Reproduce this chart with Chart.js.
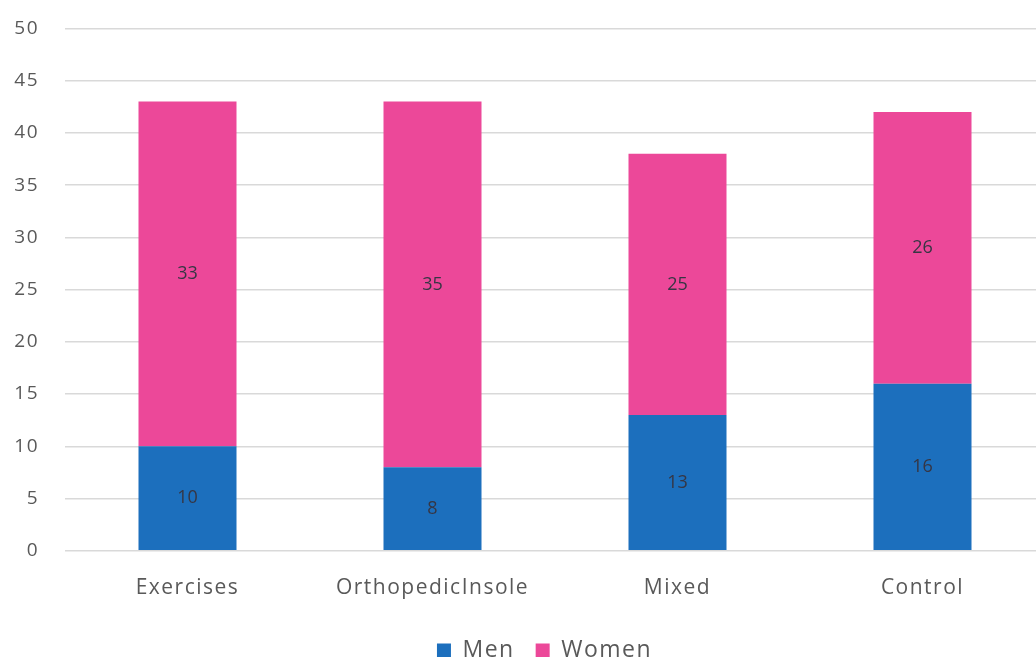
<!DOCTYPE html>
<html>
<head>
<meta charset="utf-8">
<script src="https://cdn.jsdelivr.net/npm/chart.js@4/dist/chart.umd.min.js"></script>
<style>
  html, body { margin: 0; padding: 0; background: #ffffff; overflow: hidden; }
  #wrap { width: 1036px; height: 657px; overflow: hidden; position: relative; }
  #box { width: 1050px; height: 685px; position: absolute; left: 0; top: -9px; }
</style>
</head>
<body>
<div id="wrap"><div id="box"><canvas id="c"></canvas></div></div>
<script>
const categories = ["Exercises", "OrthopedicInsole", "Mixed", "Control"];
const men = [10, 8, 13, 16];
const women = [33, 35, 25, 26];
const yTicks = [0, 5, 10, 15, 20, 25, 30, 35, 40, 45, 50];

const FONT = "'Open Sans', 'Noto Sans', sans-serif";
const TEXT = "#595959";

// Slightly looser tracking for all chart text
const tracking = {
  id: "tracking",
  beforeLayout(chart) { chart.ctx.letterSpacing = "1.5px"; },
  beforeDraw(chart) { chart.ctx.letterSpacing = "1.5px"; }
};

// Nudges the legend a little right of the page centre
const legendShift = {
  id: "legendShift",
  afterLayout(chart) {
    if (chart.legend) {
      chart.legend.left += 22;
      chart.legend.right += 22;
    }
  }
};

// Writes each segment's value in the middle of its bar
const segmentLabels = {
  id: "segmentLabels",
  afterDatasetsDraw(chart) {
    const ctx = chart.ctx;
    ctx.save();
    ctx.letterSpacing = "0px";
    ctx.font = "18px " + FONT;
    ctx.fillStyle = "#363644";
    ctx.textAlign = "center";
    ctx.textBaseline = "middle";
    chart.data.datasets.forEach((ds, i) => {
      chart.getDatasetMeta(i).data.forEach((bar, j) => {
        const p = bar.getProps(["x", "y", "base"], true);
        ctx.fillText(String(ds.data[j]), p.x, (p.y + p.base) / 2);
      });
    });
    ctx.restore();
  }
};

new Chart(document.getElementById("c"), {
  type: "bar",
  data: {
    labels: categories,
    datasets: [
      { label: "Men", data: men, backgroundColor: "#1c6fbd", categoryPercentage: 0.4, barPercentage: 1 },
      { label: "Women", data: women, backgroundColor: "#ec4899", categoryPercentage: 0.4, barPercentage: 1 }
    ]
  },
  options: {
    responsive: true,
    maintainAspectRatio: false,
    animation: false,
    layout: { padding: { top: 10, right: 5, left: 0, bottom: 4 } },
    plugins: {
      tooltip: { enabled: false },
      legend: {
        position: "bottom",
        labels: {
          font: { family: FONT, size: 23 },
          color: TEXT,
          boxWidth: 14,
          boxHeight: 14,
          padding: 21
        }
      }
    },
    scales: {
      x: {
        stacked: true,
        grid: { display: false },
        border: { display: false },
        ticks: { font: { family: FONT, size: 21 }, color: TEXT, padding: 17, maxRotation: 0 }
      },
      y: {
        stacked: true,
        min: 0,
        max: 50,
        afterBuildTicks(scale) { scale.ticks = yTicks.map(v => ({ value: v })); },
        afterFit(scale) { scale.width = 65; },
        grid: { color: "#d9d9d9", lineWidth: 1.5, drawTicks: false },
        border: { display: false },
        ticks: { font: { family: FONT, size: 19 }, color: TEXT, padding: 26 }
      }
    }
  },
  plugins: [tracking, legendShift, segmentLabels]
});
</script>
</body>
</html>
